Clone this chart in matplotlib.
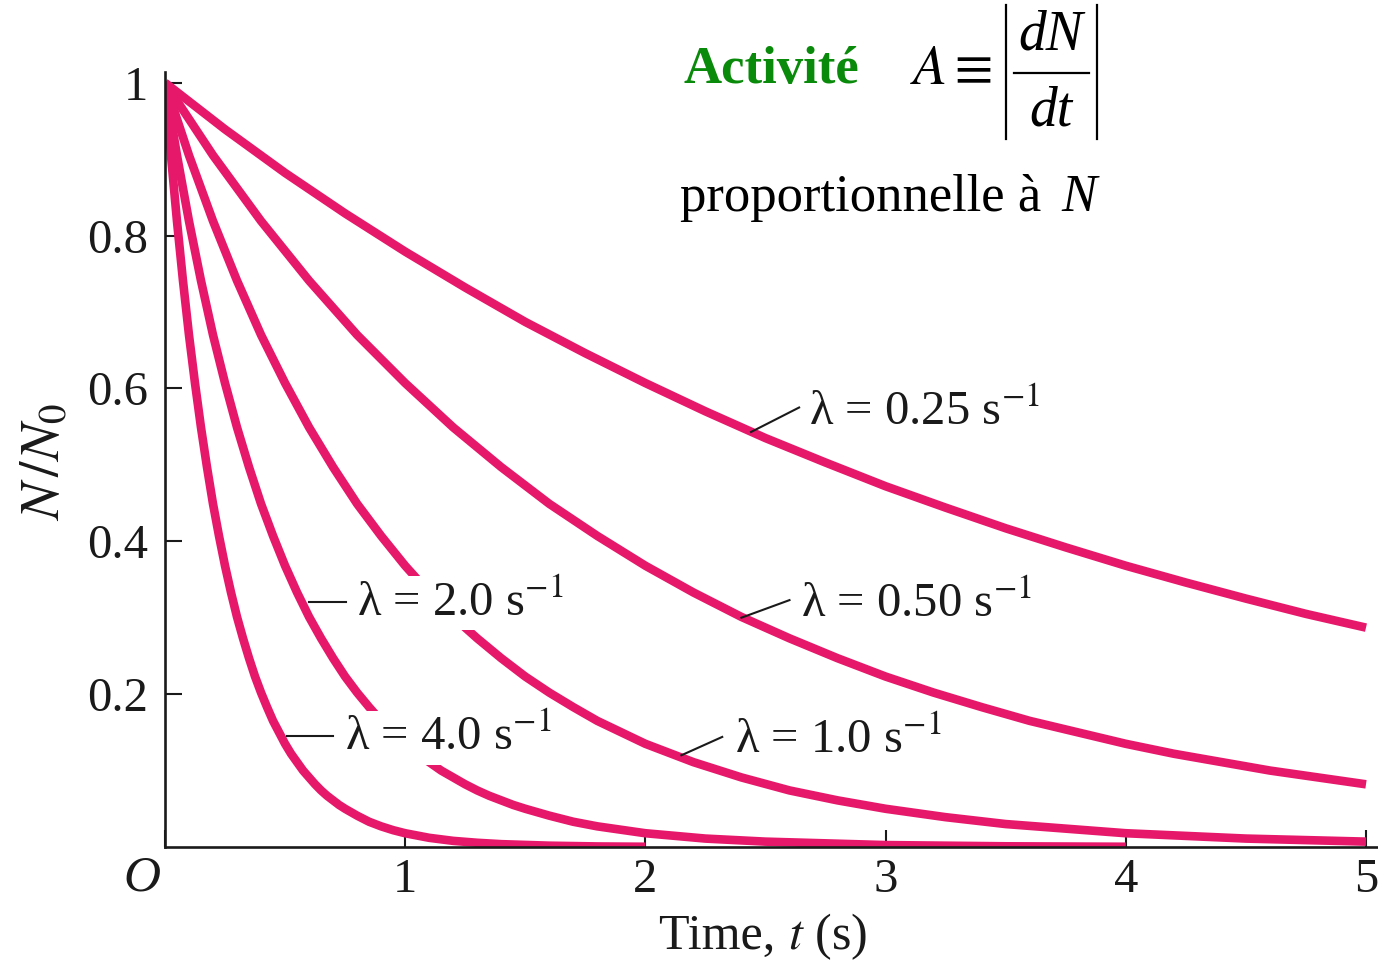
import matplotlib
matplotlib.use("Agg")
import matplotlib.pyplot as plt
from matplotlib.lines import Line2D

plt.rcParams['font.family'] = ['Liberation Serif', 'DejaVu Serif']
plt.rcParams['mathtext.fontset'] = 'stix'

# Values (N/N0 vs time in s)
t_l025 = [0, 0.25, 0.5, 0.75, 1.0, 1.25, 1.5, 1.75, 2.0, 2.25, 2.5, 2.75, 3.0,
          3.25, 3.5, 3.75, 4.0, 4.25, 4.5, 4.75, 5.0]
n_l025 = [1.000, 0.939, 0.882, 0.829, 0.779, 0.732, 0.687, 0.646, 0.607, 0.570, 0.535,
          0.503, 0.472, 0.444, 0.417, 0.392, 0.368, 0.346, 0.325, 0.305, 0.287]

t_l050 = [0, 0.2, 0.4, 0.6, 0.8, 1.0, 1.2, 1.4, 1.6, 1.8, 2.0, 2.2, 2.4, 2.6, 2.8,
          3.0, 3.2, 3.4, 3.6, 3.8, 4.0, 4.2, 4.4, 4.6, 4.8, 5.0]
n_l050 = [1.000, 0.905, 0.819, 0.741, 0.670, 0.607, 0.549, 0.497, 0.449, 0.407, 0.368,
          0.333, 0.301, 0.273, 0.247, 0.223, 0.202, 0.183, 0.165, 0.150, 0.135,
          0.122, 0.111, 0.100, 0.091, 0.082]

t_l100 = [0, 0.1, 0.2, 0.3, 0.4, 0.5, 0.6, 0.7, 0.8, 0.9, 1.0, 1.1, 1.2, 1.3, 1.4,
          1.5, 1.6, 1.7, 1.8, 1.9, 2.0, 2.2, 2.4, 2.6, 2.8, 3.0, 3.25, 3.5, 3.75,
          4.0, 4.5, 5.0]
n_l100 = [1.000, 0.905, 0.819, 0.741, 0.670, 0.607, 0.549, 0.497, 0.449, 0.407, 0.368,
          0.333, 0.301, 0.273, 0.247, 0.223, 0.202, 0.183, 0.165, 0.150, 0.135,
          0.111, 0.091, 0.074, 0.061, 0.050, 0.039, 0.030, 0.024, 0.018, 0.011, 0.007]

t_l200 = [0, 0.05, 0.1, 0.15, 0.2, 0.25, 0.3, 0.35, 0.4, 0.45, 0.5, 0.55, 0.6, 0.65,
          0.7, 0.75, 0.8, 0.85, 0.9, 0.95, 1.0, 1.05, 1.1, 1.15, 1.2, 1.25, 1.3,
          1.35, 1.4, 1.45, 1.5, 1.6, 1.7, 1.8, 2.0, 2.25, 2.5, 3.0, 3.5, 4.0]
n_l200 = [1.000, 0.905, 0.819, 0.741, 0.670, 0.607, 0.549, 0.497, 0.449, 0.407, 0.368,
          0.333, 0.301, 0.273, 0.247, 0.223, 0.202, 0.183, 0.165, 0.150, 0.135,
          0.122, 0.111, 0.100, 0.091, 0.082, 0.074, 0.067, 0.061, 0.055, 0.050,
          0.041, 0.033, 0.027, 0.018, 0.011, 0.007, 0.0025, 0.0009, 0.0003]

t_l400 = [0, 0.025, 0.05, 0.075, 0.1, 0.125, 0.15, 0.175, 0.2, 0.225, 0.25, 0.275,
          0.3, 0.325, 0.35, 0.375, 0.4, 0.425, 0.45, 0.475, 0.5, 0.525, 0.55, 0.575,
          0.6, 0.625, 0.65, 0.675, 0.7, 0.725, 0.75, 0.8, 0.85, 0.9, 0.95, 1.0,
          1.05, 1.1, 1.2, 1.3, 1.4, 1.6, 1.8, 2.0]
n_l400 = [1.000, 0.905, 0.819, 0.741, 0.670, 0.607, 0.549, 0.497, 0.449, 0.407, 0.368,
          0.333, 0.301, 0.273, 0.247, 0.223, 0.202, 0.183, 0.165, 0.150, 0.135,
          0.122, 0.111, 0.100, 0.091, 0.082, 0.074, 0.067, 0.061, 0.055, 0.050,
          0.041, 0.033, 0.027, 0.022, 0.018, 0.015, 0.012, 0.008, 0.0055, 0.0037,
          0.0017, 0.0007, 0.0003]

x_ticks = [0, 1, 2, 3, 4, 5]
x_tick_labels = ['', '1', '2', '3', '4', '5']
y_ticks = [0.2, 0.4, 0.6, 0.8, 1.0]
y_tick_labels = ['0.2', '0.4', '0.6', '0.8', '1']

curve_labels = ['λ = 0.25 s$^{-1}$', 'λ = 0.50 s$^{-1}$',
                'λ = 1.0 s$^{-1}$', 'λ = 2.0 s$^{-1}$',
                'λ = 4.0 s$^{-1}$']

color = '#E6186A'
ink = '#1a1a1a'
W, H = 1378, 965

fig = plt.figure(figsize=(W / 100, H / 100), dpi=100)
ax = fig.add_axes([0.1197, 0.1223, 0.8803, 0.8031])

for t, n in [(t_l025, n_l025), (t_l050, n_l050), (t_l100, n_l100),
             (t_l200, n_l200), (t_l400, n_l400)]:
    ax.plot(t, n, color=color, lw=6.2, solid_capstyle='butt',
            solid_joinstyle='round', zorder=2)

ax.set_xlim(0, 5.05)
ax.set_ylim(0, 1.014)
for s in ['top', 'right']:
    ax.spines[s].set_visible(False)
for s in ['left', 'bottom']:
    ax.spines[s].set_linewidth(1.9)
    ax.spines[s].set_color(ink)

ax.set_xticks(x_ticks)
ax.set_xticklabels(x_tick_labels)
ax.set_yticks(y_ticks)
ax.set_yticklabels(y_tick_labels)
ax.tick_params(axis='both', direction='in', length=12, width=1.5, color=ink,
               labelsize=35, labelcolor=ink)
ax.tick_params(axis='x', pad=8)
ax.tick_params(axis='y', pad=12)

# origin label
fig.text(142 / W, 1 - 878 / H, 'O', fontsize=37, style='italic', color=ink,
         ha='center', va='center')

fig.text(788 / W, 1 - 937 / H, 'Time, ', fontsize=36, color=ink, ha='right', va='center')
fig.text(788 / W, 1 - 937 / H, '$t$ (s)', fontsize=36, color=ink, ha='left', va='center')
fig.text(45 / W, 1 - 462 / H, '$N\\,/N_0$', fontsize=40, color=ink, rotation=90,
         ha='center', va='center')

# curve labels with leader lines
lab_pos = [(2.68, 0.569), (2.65, 0.317), (2.375, 0.140), (0.80, 0.319), (0.75, 0.143)]
leaders = [((2.44, 0.543), (2.64, 0.575)), ((2.40, 0.300), (2.60, 0.323)),
           ((2.15, 0.120), (2.32, 0.144)), ((0.60, 0.321), (0.755, 0.321)),
           ((0.51, 0.145), (0.70, 0.145))]
for lab, (x, y), (p0, p1) in zip(curve_labels, lab_pos, leaders):
    ax.plot([p0[0], p1[0]], [p0[1], p1[1]], color=ink, lw=1.5, zorder=3)
    ax.text(x, y, lab, fontsize=35, color=ink, ha='left', va='center', zorder=4,
            bbox=dict(facecolor='white', edgecolor='none', pad=3))

# header annotation
fig.text(683 / W, 1 - 70 / H, 'Activité', fontsize=38, fontweight='bold',
         color='#0a8a0a', ha='left', va='center')
fig.text(910 / W, 1 - 70 / H, r'$A \equiv$', fontsize=40, color='black',
         ha='left', va='center')
fig.text(1051 / W, 1 - 36 / H, 'dN', fontsize=40, style='italic', color='black',
         ha='center', va='center')
fig.text(1051 / W, 1 - 112 / H, 'dt', fontsize=40, style='italic', color='black',
         ha='center', va='center')
fig.add_artist(Line2D([1014 / W, 1089 / W], [1 - 73 / H, 1 - 73 / H],
                      color='black', lw=1.6, transform=fig.transFigure))
for bx in (1006, 1097):
    fig.add_artist(Line2D([bx / W, bx / W], [1 - 5 / H, 1 - 139 / H],
                          color='black', lw=1.6, transform=fig.transFigure))
fig.text(680 / W, 1 - 198 / H, 'proportionnelle à ', fontsize=38,
         color='black', ha='left', va='center')
fig.text(1097 / W, 1 - 198 / H, 'N', fontsize=38, style='italic',
         color='black', ha='right', va='center')

fig.savefig('out.png', dpi=100, facecolor='white')
